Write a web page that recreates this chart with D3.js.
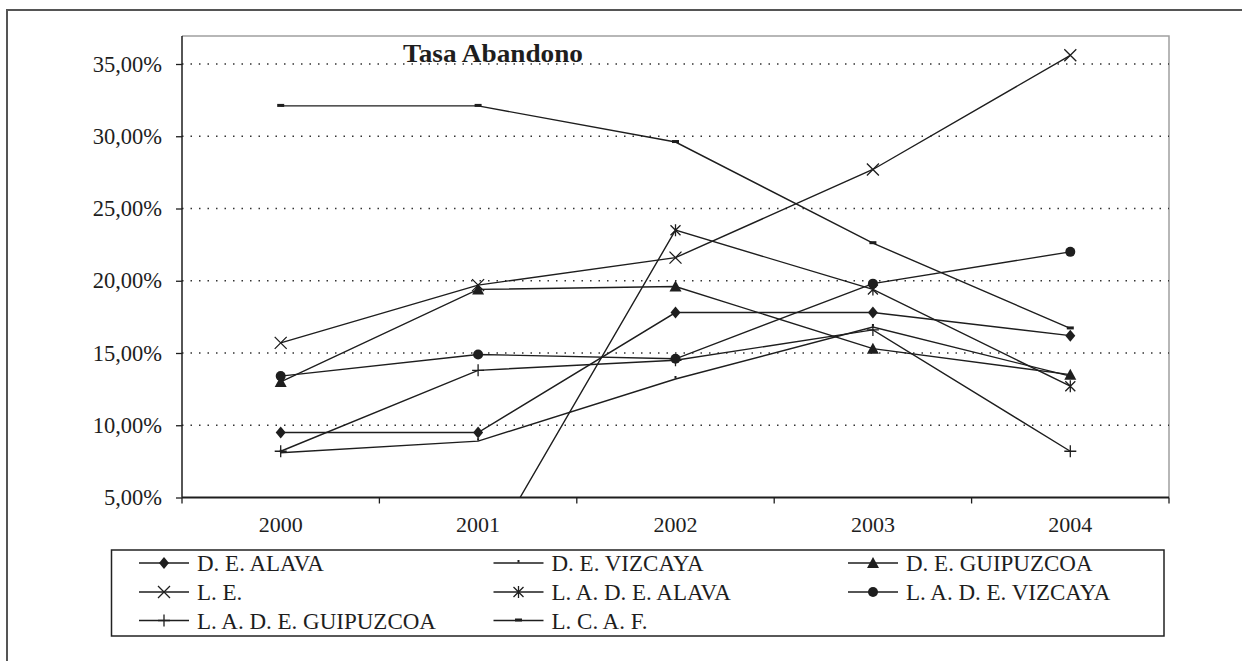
<!DOCTYPE html>
<html>
<head>
<meta charset="utf-8">
<title>Tasa Abandono</title>
<script src="https://cdn.jsdelivr.net/npm/d3@7"></script>
<style>
    html, body { margin: 0; padding: 0; background: #fff; }
    svg { display: block; }
    svg text { font-family: "Liberation Serif", "Times New Roman", Times, serif; }
</style>
</head>
<body>
<svg id="chart" width="1242" height="661"></svg>
<script>
"use strict";

var years = ["2000", "2001", "2002", "2003", "2004"];
var yTicks = [5, 10, 15, 20, 25, 30, 35];

var seriesNames = [
    "D. E. ALAVA", "D. E. VIZCAYA", "D. E. GUIPUZCOA",
    "L. E.", "L. A. D. E. ALAVA", "L. A. D. E. VIZCAYA",
    "L. A. D. E. GUIPUZCOA", "L. C. A. F."
];
var seriesMarkers = ["diamond", "dot", "triangle", "cross", "star", "circle", "plus", "dash"];

// percent values
var deAlava     = [9.5, 9.5, 17.8, 17.8, 16.2];
var deVizcaya   = [8.1, 8.9, 13.2, 16.8, 13.4];
var deGuipuzcoa = [13.0, 19.4, 19.6, 15.3, 13.5];
var le          = [15.7, 19.7, 21.6, 27.7, 35.6];
var ladeAlava   = [0, 0, 23.5, 19.4, 12.7];
var ladeVizcaya = [13.4, 14.9, 14.6, 19.8, 22.0];
var ladeGuipuz  = [8.2, 13.8, 14.5, 16.6, 8.2];
var lcaf        = [32.1, 32.1, 29.6, 22.6, 16.7];

var seriesValues = [deAlava, deVizcaya, deGuipuzcoa, le, ladeAlava, ladeVizcaya, ladeGuipuz, lcaf];

var ink = "#1e1e1e";
var serif = "'Liberation Serif', 'Times New Roman', Times, serif";
var svg = d3.select("#chart");

var plot = { left: 182, right: 1169, top: 36, bottom: 497.5 };

var x = d3.scaleBand().domain(years).range([plot.left, plot.right]).paddingInner(0).paddingOuter(0);
var y = d3.scaleLinear().domain([5, 35]).range([plot.bottom, 64]);

// outer frame (only left and top edges fall inside the picture)
svg.append("path")
    .attr("d", "M7,661V10H1242")
    .attr("fill", "none")
    .attr("stroke", "#555")
    .attr("stroke-width", 2);

// plot frame, top and right
svg.append("path")
    .attr("d", "M" + plot.left + "," + plot.top + "H" + plot.right + "V" + plot.bottom)
    .attr("fill", "none")
    .attr("stroke", "#a0a0a0")
    .attr("stroke-width", 1.5);

// dotted gridlines
svg.append("g")
    .selectAll("line")
    .data(yTicks.filter(function (d) { return d > 5; }))
  .enter().append("line")
    .attr("x1", plot.left)
    .attr("x2", plot.right)
    .attr("y1", function (d) { return y(d); })
    .attr("y2", function (d) { return y(d); })
    .attr("stroke", "#333")
    .attr("stroke-width", 1.5)
    .attr("stroke-dasharray", "1.5,7");

// y axis
var yAxis = svg.append("g")
    .attr("transform", "translate(" + plot.left + ",0)")
    .call(d3.axisLeft(y)
        .tickValues(yTicks)
        .tickSize(6)
        .tickPadding(14)
        .tickFormat(function (d) { return d.toFixed(2).replace(".", ",") + "%"; }));
yAxis.select(".domain").attr("d", "M0," + plot.top + "V" + plot.bottom).attr("stroke", ink).attr("stroke-width", 1.5);
yAxis.selectAll(".tick line").attr("stroke", ink).attr("stroke-width", 1.3);
yAxis.selectAll("text")
    .attr("fill", ink)
    .style("font-family", serif)
    .style("font-size", "22.5px");

// x axis: labels centred on categories, ticks between them
var xAxis = svg.append("g")
    .attr("transform", "translate(0," + plot.bottom + ")")
    .call(d3.axisBottom(x).tickSize(0).tickPadding(19));
xAxis.select(".domain").attr("d", "M" + plot.left + ",0H" + plot.right).attr("stroke", ink).attr("stroke-width", 2);
xAxis.selectAll("text")
    .attr("fill", ink)
    .style("font-family", serif)
    .style("font-size", "22px");
xAxis.selectAll(".edge")
    .data(years.map(function (d) { return x(d); }).concat([plot.right]))
  .enter().append("line")
    .attr("class", "edge")
    .attr("x1", function (d) { return d; })
    .attr("x2", function (d) { return d; })
    .attr("y1", 0)
    .attr("y2", 6)
    .attr("stroke", ink)
    .attr("stroke-width", 1.3);

// title
svg.append("text")
    .attr("x", 493)
    .attr("y", 62)
    .attr("text-anchor", "middle")
    .attr("font-weight", "bold")
    .attr("font-size", "25px")
    .attr("textLength", 180)
    .attr("lengthAdjust", "spacingAndGlyphs")
    .attr("fill", ink)
    .text("Tasa Abandono");

svg.append("clipPath")
    .attr("id", "plotClip")
  .append("rect")
    .attr("x", plot.left)
    .attr("y", plot.top)
    .attr("width", plot.right - plot.left)
    .attr("height", plot.bottom - plot.top);

function drawMarker(sel, type) {
    switch (type) {
        case "diamond":
            sel.append("path").attr("d", "M0,-6L5,0L0,6L-5,0Z").attr("fill", ink);
            break;
        case "triangle":
            sel.append("path").attr("d", "M0,-6L6,5L-6,5Z").attr("fill", ink);
            break;
        case "circle":
            sel.append("circle").attr("r", 5).attr("fill", ink);
            break;
        case "dot":
            sel.append("rect").attr("x", -1).attr("y", -3).attr("width", 2).attr("height", 2.5).attr("fill", ink);
            break;
        case "dash":
            sel.append("rect").attr("x", -3.5).attr("y", -2).attr("width", 7).attr("height", 3).attr("fill", ink);
            break;
        case "cross":
            sel.append("path").attr("d", "M-6,-6L6,6M-6,6L6,-6").attr("stroke", ink).attr("stroke-width", 1.3);
            break;
        case "star":
            sel.append("path").attr("d", "M-5,-5L5,5M-5,5L5,-5M0,-6V6").attr("stroke", ink).attr("stroke-width", 1.3);
            break;
        case "plus":
            sel.append("path").attr("d", "M-6,0H6M0,-6V6").attr("stroke", ink).attr("stroke-width", 1.3);
            break;
    }
}

var line = d3.line()
    .x(function (d, i) { return x(years[i]) + x.bandwidth() / 2; })
    .y(function (d) { return y(d); });

var layer = svg.append("g").attr("clip-path", "url(#plotClip)");

seriesValues.forEach(function (values, k) {
    var g = layer.append("g").attr("class", "series");
    g.append("path")
        .datum(values)
        .attr("d", line)
        .attr("fill", "none")
        .attr("stroke", ink)
        .attr("stroke-width", 1.4);
    g.selectAll(".marker")
        .data(values)
      .enter().append("g")
        .attr("class", "marker")
        .attr("transform", function (d, i) {
            return "translate(" + (x(years[i]) + x.bandwidth() / 2) + "," + y(d) + ")";
        })
        .each(function () { drawMarker(d3.select(this), seriesMarkers[k]); });
});

// legend
var legend = svg.append("g");
legend.append("rect")
    .attr("x", 111.5)
    .attr("y", 550)
    .attr("width", 1052.5)
    .attr("height", 86)
    .attr("fill", "none")
    .attr("stroke", "#222")
    .attr("stroke-width", 1.5);

var legendCols = [139, 493.5, 848];
var legendRows = [563, 592, 620.5];

seriesNames.forEach(function (name, k) {
    var lx = legendCols[k % 3];
    var ly = legendRows[Math.floor(k / 3)];
    var item = legend.append("g").attr("transform", "translate(" + lx + "," + ly + ")");
    item.append("line")
        .attr("x1", 0).attr("x2", 50)
        .attr("y1", 0).attr("y2", 0)
        .attr("stroke", ink)
        .attr("stroke-width", 1.4);
    drawMarker(item.append("g").attr("transform", "translate(25,0)"), seriesMarkers[k]);
    item.append("text")
        .attr("x", 58)
        .attr("y", 8)
        .attr("font-family", serif)
        .attr("font-size", "23px")
        .attr("fill", ink)
        .text(name);
});
</script>
</body>
</html>
